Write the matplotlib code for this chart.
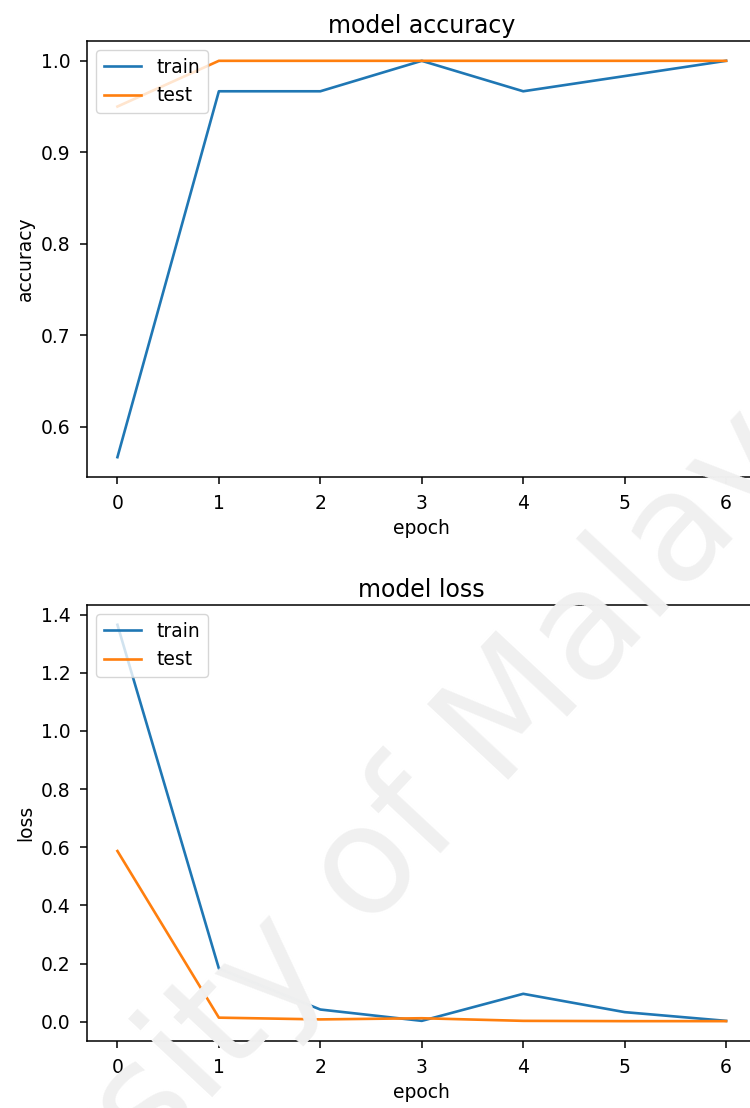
import numpy as np
import matplotlib
matplotlib.use("Agg")
import matplotlib.pyplot as plt

# training history
epochs = [0, 1, 2, 3, 4, 5, 6]
acc_train = [0.5667, 0.9667, 0.9667, 1.0, 0.9667, 0.9833, 1.0]
acc_test = [0.9500, 1.0, 1.0, 1.0, 1.0, 1.0, 1.0]
loss_train = [1.365, 0.183, 0.042, 0.003, 0.096, 0.033, 0.003]
loss_test = [0.587, 0.014, 0.008, 0.012, 0.003, 0.002, 0.002]

# the reference is an enlarged notebook plot, so scale everything up a bit
plt.rcParams["font.size"] = 13.5
plt.rcParams["axes.titlesize"] = 17
plt.rcParams["lines.linewidth"] = 1.9
plt.rcParams["axes.linewidth"] = 1.1
plt.rcParams["xtick.major.size"] = 5
plt.rcParams["ytick.major.size"] = 5
plt.rcParams["xtick.major.width"] = 1.1
plt.rcParams["ytick.major.width"] = 1.1
plt.rcParams["xtick.major.pad"] = 7.5
plt.rcParams["ytick.major.pad"] = 7

fig = plt.figure(figsize=(7.5, 11.08), dpi=100)

# faint watermark behind the plots
fig.text(0.413, 0.159, "University of Malaya", rotation=47, ha="center", va="center",
         fontsize=109, color="#f0f0f0", zorder=0)

# accuracy plot (right edge runs off the picture, as in the reference)
ax1 = fig.add_axes([0.116, 0.5695, 0.8927, 0.3935])
ax1.patch.set_alpha(0)
ax1.plot(epochs, acc_train)
ax1.plot(epochs, acc_test)
ax1.set_title("model accuracy")
ax1.set_ylabel("accuracy")
ax1.set_xlabel("epoch")
ax1.legend(["train", "test"], loc="upper left")

# loss plot
ax2 = fig.add_axes([0.116, 0.0605, 0.8927, 0.3935])
ax2.patch.set_alpha(0)
ax2.plot(epochs, loss_train)
ax2.plot(epochs, loss_test)
ax2.set_title("model loss")
ax2.set_ylabel("loss")
ax2.set_xlabel("epoch")
ax2.legend(["train", "test"], loc="upper left")

fig.savefig("out.png", dpi=100)
